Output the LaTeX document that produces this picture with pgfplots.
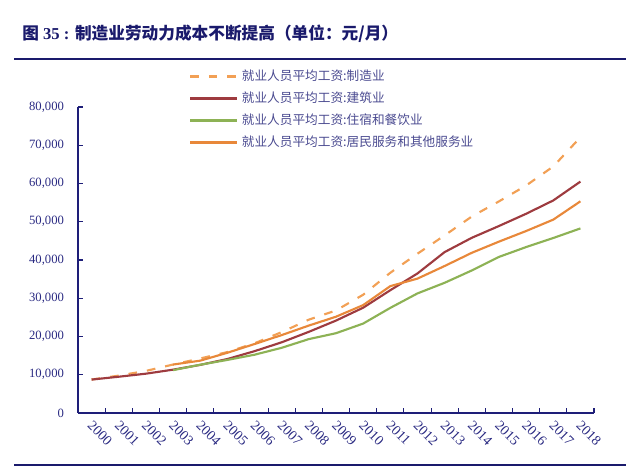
\documentclass[border=0pt]{standalone}
\usepackage{pgfplots}
\pgfplotsset{compat=1.18}
\usepackage{fontspec}
\setmainfont{Liberation Serif}
\newfontfamily\cjk{Noto Sans CJK SC}
\definecolor{titlecol}{HTML}{1A1A6C}
\definecolor{axcol}{HTML}{1E1E78}
\definecolor{tickcol}{HTML}{2A2A82}
\definecolor{legcol}{HTML}{4A4A90}
\definecolor{manuf}{HTML}{F2A055}
\definecolor{constr}{HTML}{9E3B3F}
\definecolor{hotel}{HTML}{8DB255}
\definecolor{resid}{HTML}{E8883A}
\begin{document}
\begin{tikzpicture}
\useasboundingbox (0,0) rectangle (480pt,351pt);
\node[anchor=west, inner sep=0pt, text=titlecol, font=\fontsize{12.5}{14}\selectfont\bfseries] at (16.5pt,326pt) {{\cjk 图} 35 : {\cjk 制造业劳动力成本不断提高（单位：元/月）}};
\draw[titlecol, line width=1.6pt] (10.5pt,306.75pt) -- (469.5pt,306.75pt);
\draw[titlecol, line width=1.6pt] (10.5pt,2.25pt) -- (469.5pt,2.25pt);
\begin{axis}[
  at={(58.5pt,41.25pt)}, anchor=south west,
  width=387pt, height=229.5pt, scale only axis,
  xmin=-0.5, xmax=18.5, ymin=0, ymax=80000,
  axis x line*=bottom, axis y line*=left,
  axis line style={axcol, line width=1pt, -},
  xtick={0,...,18},
  xticklabels={2000,2001,2002,2003,2004,2005,2006,2007,2008,2009,2010,2011,2012,2013,2014,2015,2016,2017,2018},
  major x tick style={draw=none},
  minor xtick={0.5,1.5,...,18.5},
  minor tick length=3.5pt, major tick length=3.5pt,
  tick align=inside,
  tick style={axcol, line width=0.8pt},
  ytick={0,10000,...,80000},
  scaled y ticks=false,
  /pgf/number format/fixed,
  /pgf/number format/1000 sep={,},
  /pgf/number format/assume math mode=true,
  y tick label style={font=\fontsize{9.5}{11}\selectfont, text=tickcol, xshift=-7pt},
  x tick label style={font=\fontsize{10.5}{12}\selectfont, text=tickcol, rotate=-45, anchor=north west, xshift=1pt, yshift=1pt},
  legend style={at={(0.207,1.131)}, anchor=north west, draw=none, fill=none,
    font=\cjk\fontsize{9.5}{11}\selectfont, text=legcol, row sep=6.5pt, column sep=3pt,
    nodes={inner sep=0pt, text height=8pt, text depth=2pt}},
  legend cell align=left,
  legend image code/.code={\draw[#1] (0pt,0pt) -- (35pt,0pt);},
  every axis plot/.append style={line width=1.6pt},
]
\addplot[manuf, dash pattern=on 6.5pt off 7.5pt] coordinates {
(0,8750)(1,9774)(2,11001)(3,12671)(4,14251)(5,15934)(6,18225)(7,21144)(8,24404)(9,26810)(10,30916)(11,36665)(12,41650)(13,46431)(14,51369)(15,55324)(16,59470)(17,64452)(18,72088)};
\addlegendentry{就业人员平均工资:制造业}
\addplot[constr] coordinates {
(0,8735)(1,9484)(2,10279)(3,11328)(4,12578)(5,14112)(6,16164)(7,18482)(8,21223)(9,24161)(10,27529)(11,32103)(12,36483)(13,42072)(14,45804)(15,48886)(16,52082)(17,55568)(18,60501)};
\addlegendentry{就业人员平均工资:建筑业}
\addplot[hotel] coordinates {
(3,11198)(4,12618)(5,13876)(6,15236)(7,17046)(8,19321)(9,20860)(10,23382)(11,27486)(12,31267)(13,34044)(14,37264)(15,40806)(16,43382)(17,45751)(18,48260)};
\addlegendentry{就业人员平均工资:住宿和餐饮业}
\addplot[resid] coordinates {
(3,12665)(4,13680)(5,15747)(6,18030)(7,20370)(8,22858)(9,25172)(10,28206)(11,33169)(12,35135)(13,38429)(14,41882)(15,44802)(16,47577)(17,50552)(18,55343)};
\addlegendentry{就业人员平均工资:居民服务和其他服务业}
\end{axis}
\end{tikzpicture}
\end{document}
